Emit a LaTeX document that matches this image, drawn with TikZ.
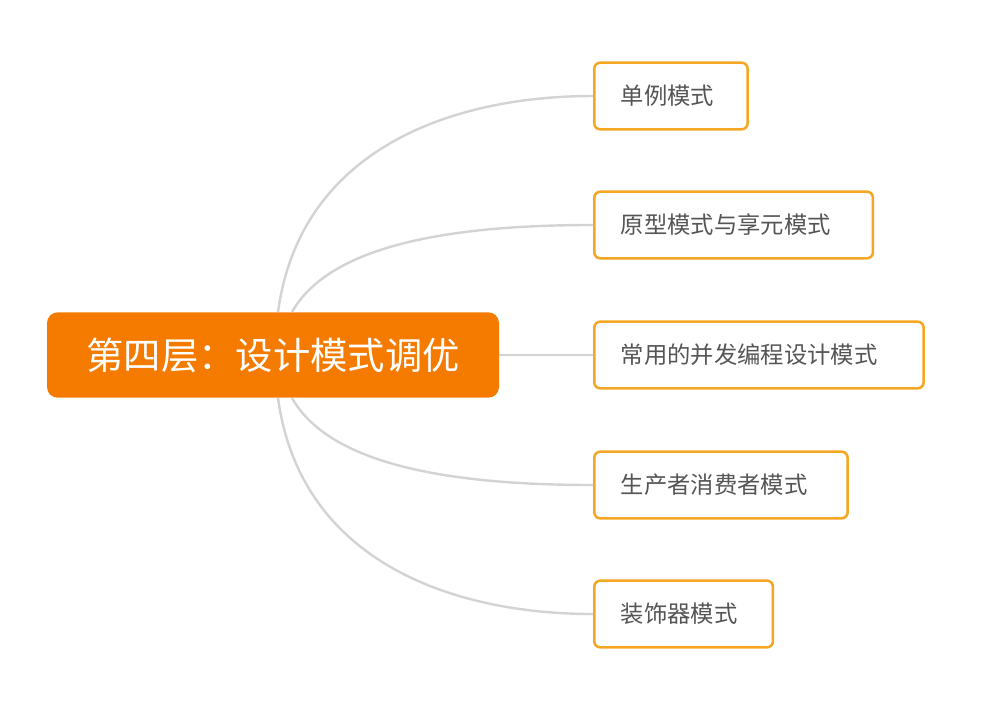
\documentclass[tikz,border=0pt]{standalone}
\usepackage{fontspec}
\setmainfont{Noto Sans CJK SC}
\definecolor{orng}{HTML}{F47B00}
\definecolor{bord}{HTML}{F5A623}
\definecolor{txt}{HTML}{555555}
\definecolor{lnk}{HTML}{D3D3D3}
\begin{document}
\begin{tikzpicture}[x=0.75pt,y=-0.75pt,
  child/.style={draw=bord,line width=1.9pt,rounded corners=4.5pt,fill=white,text=txt,font=\fontsize{17.5}{20}\selectfont,anchor=west,minimum height=50pt,inner xsep=0pt,align=left},
  link/.style={draw=lnk,line width=1.8pt}]
\useasboundingbox (0,0) rectangle (1000,711);
\node[fill=orng,rounded corners=8pt,text=white,font=\fontsize{28}{32}\selectfont,minimum width=339pt,minimum height=64pt] (c) at (273,355) {第四层：设计模式调优};
\node[child,text width=115pt] (a) at (593,96) {\hspace*{20pt}单例模式};
\node[child,text width=209pt] (b) at (593,225) {\hspace*{20pt}原型模式与享元模式};
\node[child,text width=247pt] (d) at (593,355) {\hspace*{20pt}常用的并发编程设计模式};
\node[child,text width=190pt] (e) at (593,485) {\hspace*{20pt}生产者消费者模式};
\node[child,text width=134pt] (f) at (593,614) {\hspace*{20pt}装饰器模式};
\path[link] (278,312) .. controls (300,150) and (450,96) .. (a.west);
\path[link] (292,312) .. controls (330,245) and (450,225) .. (b.west);
\path[link] (c.east) -- (d.west);
\path[link] (292,398) .. controls (330,465) and (450,485) .. (e.west);
\path[link] (278,398) .. controls (300,560) and (450,614) .. (f.west);
\end{tikzpicture}
\end{document}
